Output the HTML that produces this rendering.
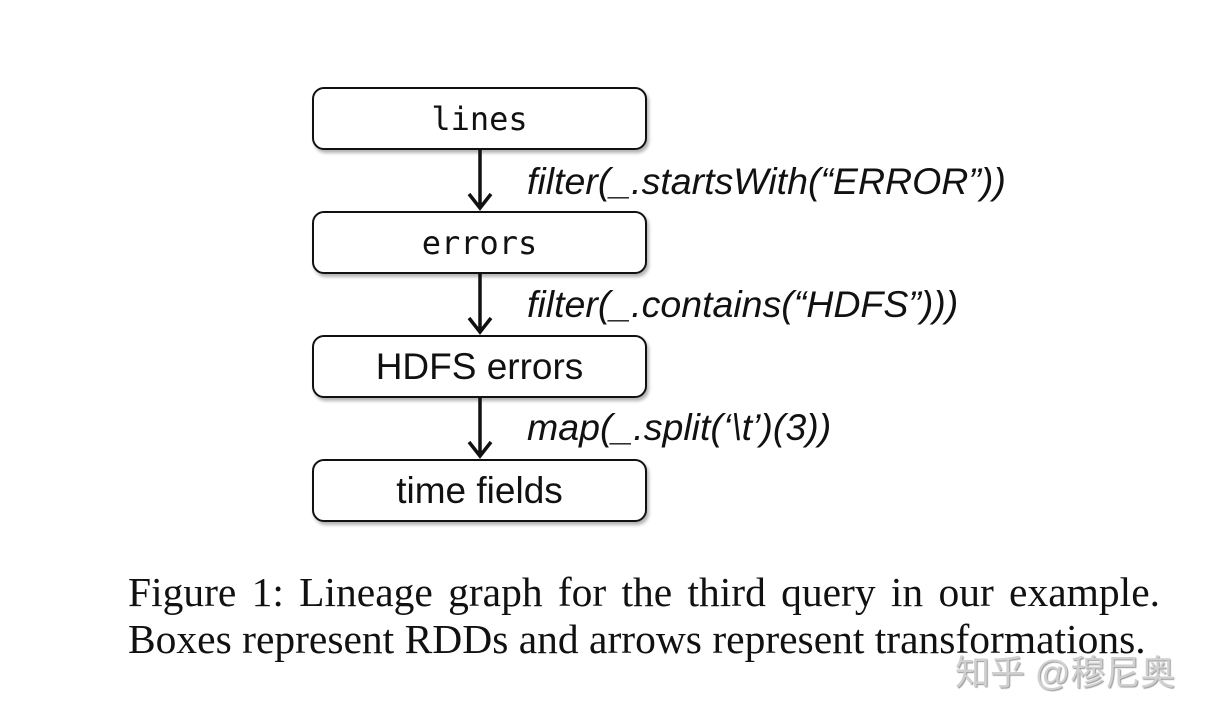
<!DOCTYPE html>
<html><head><meta charset="utf-8"><style>
body{margin:0;width:1212px;height:716px;background:#fff;position:relative;overflow:hidden}
.box{position:absolute;left:312px;width:331px;height:59px;border:2px solid #111;border-radius:12px;background:#fff;box-shadow:2px 3px 3px rgba(0,0,0,.3);display:flex;align-items:center;justify-content:center;color:#111}
.mono{font-family:"DejaVu Sans Mono","Liberation Mono",monospace;font-size:32px}
.sans{font-family:"Liberation Sans",sans-serif;font-size:37px}
.lbl{position:absolute;left:527px;font-family:"Liberation Sans",sans-serif;font-style:italic;font-size:37.5px;color:#111;white-space:nowrap}
.cap{position:absolute;left:128px;width:1032px;font-family:"Liberation Serif",serif;font-size:41.5px;color:#111;white-space:nowrap}
</style></head><body>
<div class="box mono" style="top:87px">lines</div>
<div class="box mono" style="top:211px">errors</div>
<div class="box sans" style="top:335px">HDFS errors</div>
<div class="box sans" style="top:459px">time fields</div>
<svg width="1212" height="716" style="position:absolute;left:0;top:0">
<g stroke="#111" stroke-width="3.5" fill="none">
<path d="M480 150V208M469 194L480 208L491 194"/>
<path d="M480 274V332M469 318L480 332L491 318"/>
<path d="M480 398V456M469 442L480 456L491 442"/>
</g></svg>
<div class="lbl" style="top:160px">filter(_.startsWith(“ERROR”))</div>
<div class="lbl" style="top:283px">filter(_.contains(“HDFS”)))</div>
<div class="lbl" style="top:406px">map(_.split(‘\t’)(3))</div>
<div class="cap" style="top:568px;text-align:justify;text-align-last:justify">Figure 1: Lineage graph for the third query in our example.</div>
<div class="cap" style="top:615px">Boxes represent RDDs and arrows represent transformations.</div>
<div style="position:absolute;left:955px;top:645px;font-family:'Liberation Sans','Noto Sans CJK SC',sans-serif;font-size:35px;color:#d0d0d0;text-shadow:1px 1px 1px #999;white-space:nowrap">知乎 @穆尼奥</div>
</body></html>
